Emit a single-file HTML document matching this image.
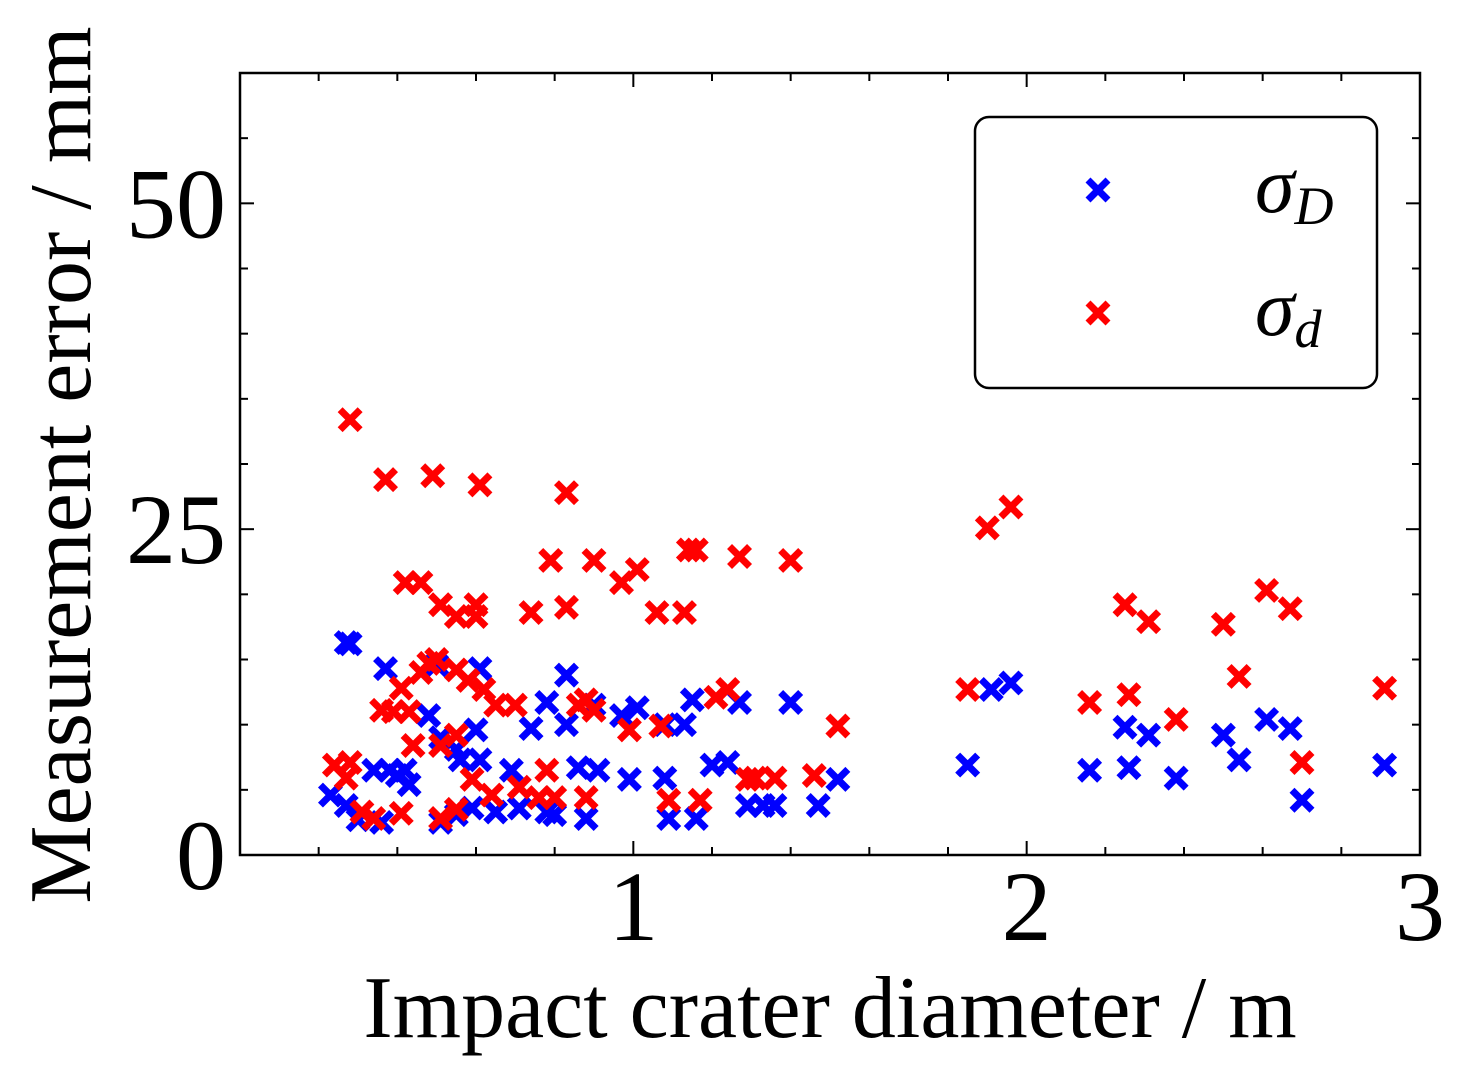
<!DOCTYPE html>
<html><head><meta charset="utf-8"><style>
body{margin:0;background:#fff;}
svg{display:block;font-family:"Liberation Serif",serif;}
</style></head><body>
<svg id="chart" width="1457" height="1070">
<g id="ticks"></g>
<rect x="240" y="73" width="1180" height="782" fill="none" stroke="#000" stroke-width="2.5"/>
<g id="marks"></g>
<g id="labels"></g>
<text x="830" y="1037" font-size="88" text-anchor="middle">Impact crater diameter / m</text>
<text transform="translate(90,465) rotate(-90)" font-size="88" text-anchor="middle">Measurement error / mm</text>
<g>
<rect x="975" y="117" width="402" height="271" rx="14" fill="#fff" stroke="#000" stroke-width="2.5"/>
<g>
<path d="M1088 180L1108 200M1108 180L1088 200" stroke="#0000ff" stroke-width="7"/>
<text x="1255" y="212" font-size="80" font-style="italic">σ<tspan font-size="54" dy="12">D</tspan></text>
</g>
<g>
<path d="M1088 303L1108 323M1108 303L1088 323" stroke="#ff0000" stroke-width="7"/>
<text x="1255" y="335" font-size="80" font-style="italic">σ<tspan font-size="54" dy="12">d</tspan></text>
</g>
</g>
</svg>
<script>
const redX=[0.28,0.37,0.49,0.61,0.83,0.79,0.90,0.97,1.01,0.83,0.74,0.60,0.60,0.51,0.55,0.42,0.46,1.06,1.13,1.14,1.16,1.27,1.40,1.90,1.96,2.25,2.31,2.50,2.61,2.67,2.54,2.26,2.16,1.85,2.91,2.38,2.70,1.52,1.46,1.36,1.31,1.29,1.24,1.21,1.17,1.09,1.07,0.99,0.90,0.86,0.88,0.88,0.80,0.78,0.76,0.70,0.65,0.62,0.58,0.55,0.50,0.48,0.46,0.41,0.36,0.39,0.43,0.44,0.51,0.55,0.59,0.64,0.55,0.51,0.41,0.34,0.31,0.27,0.24,0.28,0.71];
const redY=[33.4,28.8,29.1,28.4,27.8,22.6,22.6,20.9,21.9,19.0,18.6,19.2,18.3,19.2,18.3,20.9,20.9,18.6,18.6,23.4,23.4,22.9,22.6,25.1,26.7,19.2,17.9,17.7,20.3,18.9,13.7,12.3,11.7,12.7,12.8,10.4,7.1,9.9,6.1,5.9,5.9,5.8,12.7,12.1,4.2,4.2,9.9,9.6,11.1,11.5,11.9,4.4,4.4,6.5,4.4,11.5,11.5,12.7,13.4,14.2,15.0,14.7,14.0,12.8,11.1,11.0,11.0,8.4,8.4,9.2,5.8,4.6,3.5,2.8,3.2,2.8,3.3,5.9,6.9,7.1,5.2];
const blueX=[0.27,0.28,0.37,0.50,0.61,0.83,0.78,0.74,0.83,0.90,0.97,1.01,1.08,1.13,1.15,1.27,1.40,1.20,1.24,0.99,1.08,1.09,1.16,1.29,1.33,1.36,1.47,1.52,0.88,0.86,0.91,0.78,0.80,0.71,0.65,0.59,0.61,0.69,0.56,0.55,0.51,0.48,0.60,0.42,0.43,0.40,0.34,0.38,0.23,0.27,0.30,0.36,0.51,0.55,1.85,1.91,1.96,2.16,2.26,2.25,2.31,2.38,2.50,2.54,2.61,2.67,2.70,2.91];
const blueY=[16.3,16.2,14.3,14.6,14.3,13.8,11.7,9.7,10.0,11.5,10.7,11.3,10.0,10.0,11.9,11.7,11.7,6.9,7.1,5.8,5.9,2.8,2.8,3.8,3.8,3.8,3.8,5.8,2.8,6.7,6.5,3.3,3.1,3.6,3.3,3.6,7.3,6.5,7.3,8.1,9.0,10.7,9.6,6.5,5.4,6.1,6.5,6.5,4.6,3.8,2.7,2.5,2.5,3.1,6.9,12.7,13.2,6.5,6.7,9.8,9.2,5.9,9.2,7.3,10.4,9.7,4.2,6.9];
const xTickLabels=["1","2","3"];
const yTickLabels=["0","25","50"];
const NS="http://www.w3.org/2000/svg";
const X0=240,X1=1420,Y0=855,Y1=73,XMAX=3,YMAX=60;
const sx=v=>X0+(X1-X0)*v/XMAX, sy=v=>Y0-(Y0-Y1)*v/YMAX;
const ticks=document.getElementById('ticks'),marks=document.getElementById('marks'),labels=document.getElementById('labels');
function line(g,x1,y1,x2,y2){const l=document.createElementNS(NS,'line');l.setAttribute('x1',x1);l.setAttribute('y1',y1);l.setAttribute('x2',x2);l.setAttribute('y2',y2);l.setAttribute('stroke','#000');l.setAttribute('stroke-width',2);


g.appendChild(l);}
for(let i=1;i<15;i++){const v=i*0.2,x=sx(v),L=(i%5==0)?14:8;line(ticks,x,Y0,x,Y0-L);line(ticks,x,Y1,x,Y1+L);}
for(let i=1;i<12;i++){const v=i*5,y=sy(v),L=(i%5==0)?14:8;line(ticks,X0,y,X0+L,y);line(ticks,X1,y,X1-L,y);}
xTickLabels.forEach(s=>{const t=document.createElementNS(NS,'text');t.setAttribute('x',sx(+s));t.setAttribute('y',940);t.setAttribute('font-size',100);t.setAttribute('text-anchor','middle');t.textContent=s;


labels.appendChild(t);});
yTickLabels.forEach(s=>{const t=document.createElementNS(NS,'text');t.setAttribute('x',226);t.setAttribute('y',sy(+s)+34);t.setAttribute('font-size',100);t.setAttribute('text-anchor','end');t.textContent=s;


labels.appendChild(t);});
function cross(x,y,c,name){const p=document.createElementNS(NS,'path');const x0=sx(x),y0=sy(y),h=10;p.setAttribute('d',`M${x0-h} ${y0-h}L${x0+h} ${y0+h}M${x0+h} ${y0-h}L${x0-h} ${y0+h}`);p.setAttribute('stroke',c);p.setAttribute('stroke-width',7);


marks.appendChild(p);}
blueX.forEach((x,i)=>cross(x,blueY[i],'#0000ff','sigma-D-point'));
redX.forEach((x,i)=>cross(x,redY[i],'#ff0000','sigma-d-point'));
</script>
</body></html>
